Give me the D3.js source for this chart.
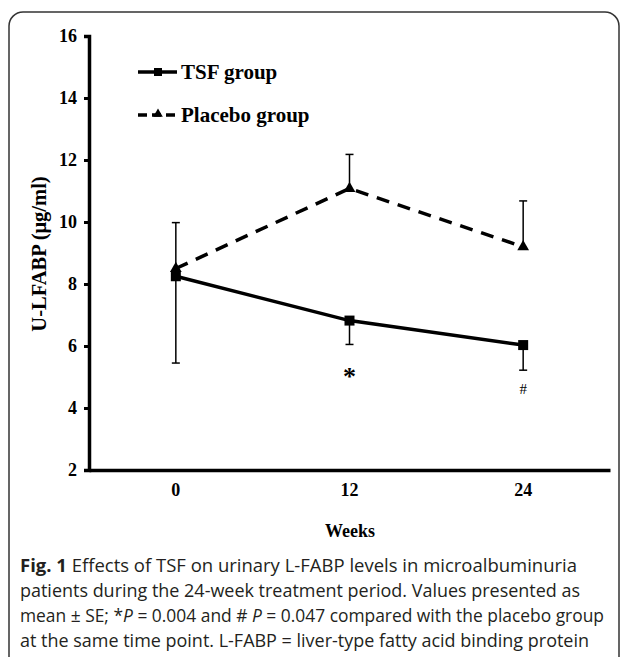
<!DOCTYPE html>
<html>
<head>
<meta charset="utf-8">
<script src="https://cdn.jsdelivr.net/npm/d3@7"></script>
<style>
  body { margin: 0; background: #fff; }
  svg { display: block; }
</style>
</head>
<body>
<div id="chart"></div>
<script>
// Weeks on the x axis
const weeks = ['0', '12', '24'];
const yTicks = [2, 4, 6, 8, 10, 12, 14, 16];

// Mean U-LFABP (µg/ml) and the one-sided SE bar ends
const tsfMean = [8.25, 6.82, 6.03];
const tsfLow = [5.45, 6.05, 5.22];
const placeboMean = [8.5, 11.08, 9.2];
const placeboHigh = [9.98, 12.18, 10.68];

// significance marks under the TSF points
const marks = ['', '*', '#'];

const captionLines = [
  [{ t: 'Fig. 1', b: true }, { t: ' Effects of TSF on urinary L-FABP levels in microalbuminuria' }],
  [{ t: 'patients during the 24-week treatment period. Values presented as' }],
  [{ t: 'mean ± SE; *' }, { t: 'P', i: true }, { t: ' = 0.004 and # ' }, { t: 'P', i: true },
   { t: ' = 0.047 compared with the placebo group' }],
  [{ t: 'at the same time point. L-FABP = liver-type fatty acid binding protein' }]
];
const captionWidths = [557, 560, 584, 569];

const W = 627, H = 657;
const serif = '"Liberation Serif", "Times New Roman", serif';

const svg = d3.select('#chart').append('svg')
  .attr('width', W)
  .attr('height', H);

// rounded frame round the figure
svg.append('rect')
  .attr('x', 9).attr('y', 12)
  .attr('width', 610).attr('height', 700)
  .attr('rx', 14)
  .attr('fill', 'none')
  .attr('stroke', '#333')
  .attr('stroke-width', 1.5);

const x = d3.scaleBand().domain(weeks).range([89, 610]);
const cx = d => x(d) + x.bandwidth() / 2;
const y = d3.scaleLinear().domain([2, 16]).range([470, 36]);

// Y axis
const gy = svg.append('g')
  .attr('transform', 'translate(89,0)')
  .call(d3.axisLeft(y).tickValues(yTicks).tickSize(5).tickPadding(7));
gy.select('.domain').attr('stroke', '#000').attr('stroke-width', 3.5);
gy.selectAll('.tick line').attr('stroke', '#000').attr('stroke-width', 3);
gy.selectAll('.tick text')
  .attr('font-family', serif).attr('font-size', 18).attr('font-weight', 'bold').attr('fill', '#000');

// X axis
const gx = svg.append('g')
  .attr('transform', 'translate(0,470)')
  .call(d3.axisBottom(x).tickSize(0).tickPadding(13));
gx.select('.domain').attr('stroke', '#000').attr('stroke-width', 3.5);
gx.selectAll('.tick text')
  .attr('font-family', serif).attr('font-size', 18).attr('font-weight', 'bold').attr('fill', '#000');

// Axis titles
svg.append('text')
  .attr('transform', 'translate(46,254) rotate(-90)')
  .attr('text-anchor', 'middle')
  .attr('font-family', serif).attr('font-size', 20.5).attr('font-weight', 'bold')
  .text('U-LFABP (μg/ml)');

svg.append('text')
  .attr('x', 350).attr('y', 537)
  .attr('text-anchor', 'middle')
  .attr('font-family', serif).attr('font-size', 18).attr('font-weight', 'bold')
  .text('Weeks');

// Error bars
function errorBars(means, ends) {
  const g = svg.append('g').attr('stroke', '#000').attr('stroke-width', 1.5);
  weeks.forEach((w, i) => {
    g.append('line')
      .attr('x1', cx(w)).attr('x2', cx(w))
      .attr('y1', y(means[i])).attr('y2', y(ends[i]));
    g.append('line')
      .attr('x1', cx(w) - 4).attr('x2', cx(w) + 4)
      .attr('y1', y(ends[i])).attr('y2', y(ends[i]));
  });
}
errorBars(tsfMean, tsfLow);
errorBars(placeboMean, placeboHigh);

const line = d3.line().x((d, i) => cx(weeks[i])).y(d => y(d));

// Placebo (dashed)
svg.append('path')
  .datum(placeboMean)
  .attr('d', line)
  .attr('fill', 'none')
  .attr('stroke', '#000')
  .attr('stroke-width', 3.5)
  .attr('stroke-dasharray', '13,9');

// TSF (solid)
svg.append('path')
  .datum(tsfMean)
  .attr('d', line)
  .attr('fill', 'none')
  .attr('stroke', '#000')
  .attr('stroke-width', 3.5);

const tri = d3.symbol().type(d3.symbolTriangle).size(60);
svg.selectAll('.ptri')
  .data(placeboMean)
  .join('path')
  .attr('class', 'ptri')
  .attr('transform', (d, i) => `translate(${cx(weeks[i])},${y(d)})`)
  .attr('d', tri)
  .attr('fill', '#000');

svg.selectAll('.psq')
  .data(tsfMean)
  .join('rect')
  .attr('class', 'psq')
  .attr('x', (d, i) => cx(weeks[i]) - 5)
  .attr('y', d => y(d) - 5)
  .attr('width', 10).attr('height', 10)
  .attr('fill', '#000');

// significance marks
svg.selectAll('.mark')
  .data(marks)
  .join('text')
  .attr('class', 'mark')
  .attr('x', (d, i) => cx(weeks[i]))
  .attr('y', (d, i) => i === 1 ? 385 : 394)
  .attr('text-anchor', 'middle')
  .attr('font-family', serif)
  .attr('font-size', (d, i) => i === 1 ? 26 : 15)
  .attr('font-weight', (d, i) => i === 1 ? 'bold' : 'normal')
  .text(d => d);

// Legend
const legend = [
  { name: 'TSF group', dash: null, shape: 'sq', yy: 72 },
  { name: 'Placebo group', dash: '9,5', shape: 'tri', yy: 115 }
];
legend.forEach(l => {
  const g = svg.append('g');
  g.append('line')
    .attr('x1', 138).attr('x2', 177)
    .attr('y1', l.yy).attr('y2', l.yy)
    .attr('stroke', '#000').attr('stroke-width', 3.5)
    .attr('stroke-dasharray', l.dash);
  if (l.shape === 'sq') {
    g.append('rect').attr('x', 154).attr('y', l.yy - 4).attr('width', 8).attr('height', 8);
  } else {
    g.append('path').attr('transform', `translate(158,${l.yy - 1})`)
      .attr('d', d3.symbol().type(d3.symbolTriangle).size(40));
  }
  g.append('text')
    .attr('x', 181).attr('y', l.yy + 7)
    .attr('font-family', serif).attr('font-size', 21).attr('font-weight', 'bold')
    .text(l.name);
});

// Caption
captionLines.forEach((parts, i) => {
  const t = svg.append('text')
    .attr('x', 20).attr('y', 571.5 + i * 25.2)
    .attr('font-family', '"Open Sans", "Noto Sans", sans-serif')
    .attr('font-size', 17.5)
    .attr('fill', '#231f20')
    .attr('textLength', captionWidths[i])
    .attr('lengthAdjust', 'spacingAndGlyphs');
  parts.forEach(p => {
    t.append('tspan')
      .attr('font-weight', p.b ? 'bold' : 'normal')
      .attr('font-style', p.i ? 'italic' : 'normal')
      .text(p.t);
  });
});
</script>
</body>
</html>
